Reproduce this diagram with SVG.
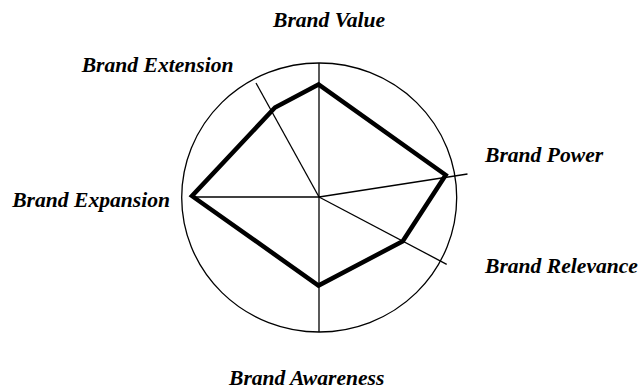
<svg xmlns="http://www.w3.org/2000/svg" width="640" height="392" viewBox="0 0 640 392">
<style>
.lbl{font-family:"Liberation Serif","Times New Roman",serif;font-weight:bold;font-style:italic;font-size:21.6px;fill:#000}
.axis{stroke:#000;stroke-width:1.3;fill:none}
.shape{stroke:#000;stroke-width:4.5;fill:none;stroke-linejoin:miter}
</style>
<rect width="640" height="392" fill="#fff"/>
<g id="circle"><ellipse cx="319.2" cy="197.5" rx="137.5" ry="134.5" class="axis"/></g>
<g id="connectors">
<line class="axis" x1="319" y1="63" x2="319" y2="332"/>
<line class="axis" x1="192" y1="197" x2="319" y2="197"/>
<line class="axis" x1="319" y1="197" x2="256" y2="83"/>
<line class="axis" x1="319" y1="197" x2="467.5" y2="174"/>
<line class="axis" x1="319" y1="197" x2="446.7" y2="264.3"/>
</g>
<g id="profile"><polygon class="shape" points="318.5,84.5 275,107.5 192,196 318.5,285.5 402.7,241.3 445.7,175"/></g>
<g id="brand-value"><text class="lbl" x="273" y="26.7">Brand Value</text></g>
<g id="brand-extension"><text class="lbl" x="81.7" y="71.7">Brand Extension</text></g>
<g id="brand-power"><text class="lbl" x="485" y="161.7">Brand Power</text></g>
<g id="brand-expansion"><text class="lbl" x="12.2" y="206.7">Brand Expansion</text></g>
<g id="brand-relevance"><text class="lbl" x="485" y="273.3">Brand Relevance</text></g>
<g id="brand-awareness"><text class="lbl" x="229" y="385">Brand Awareness</text></g>
</svg>
